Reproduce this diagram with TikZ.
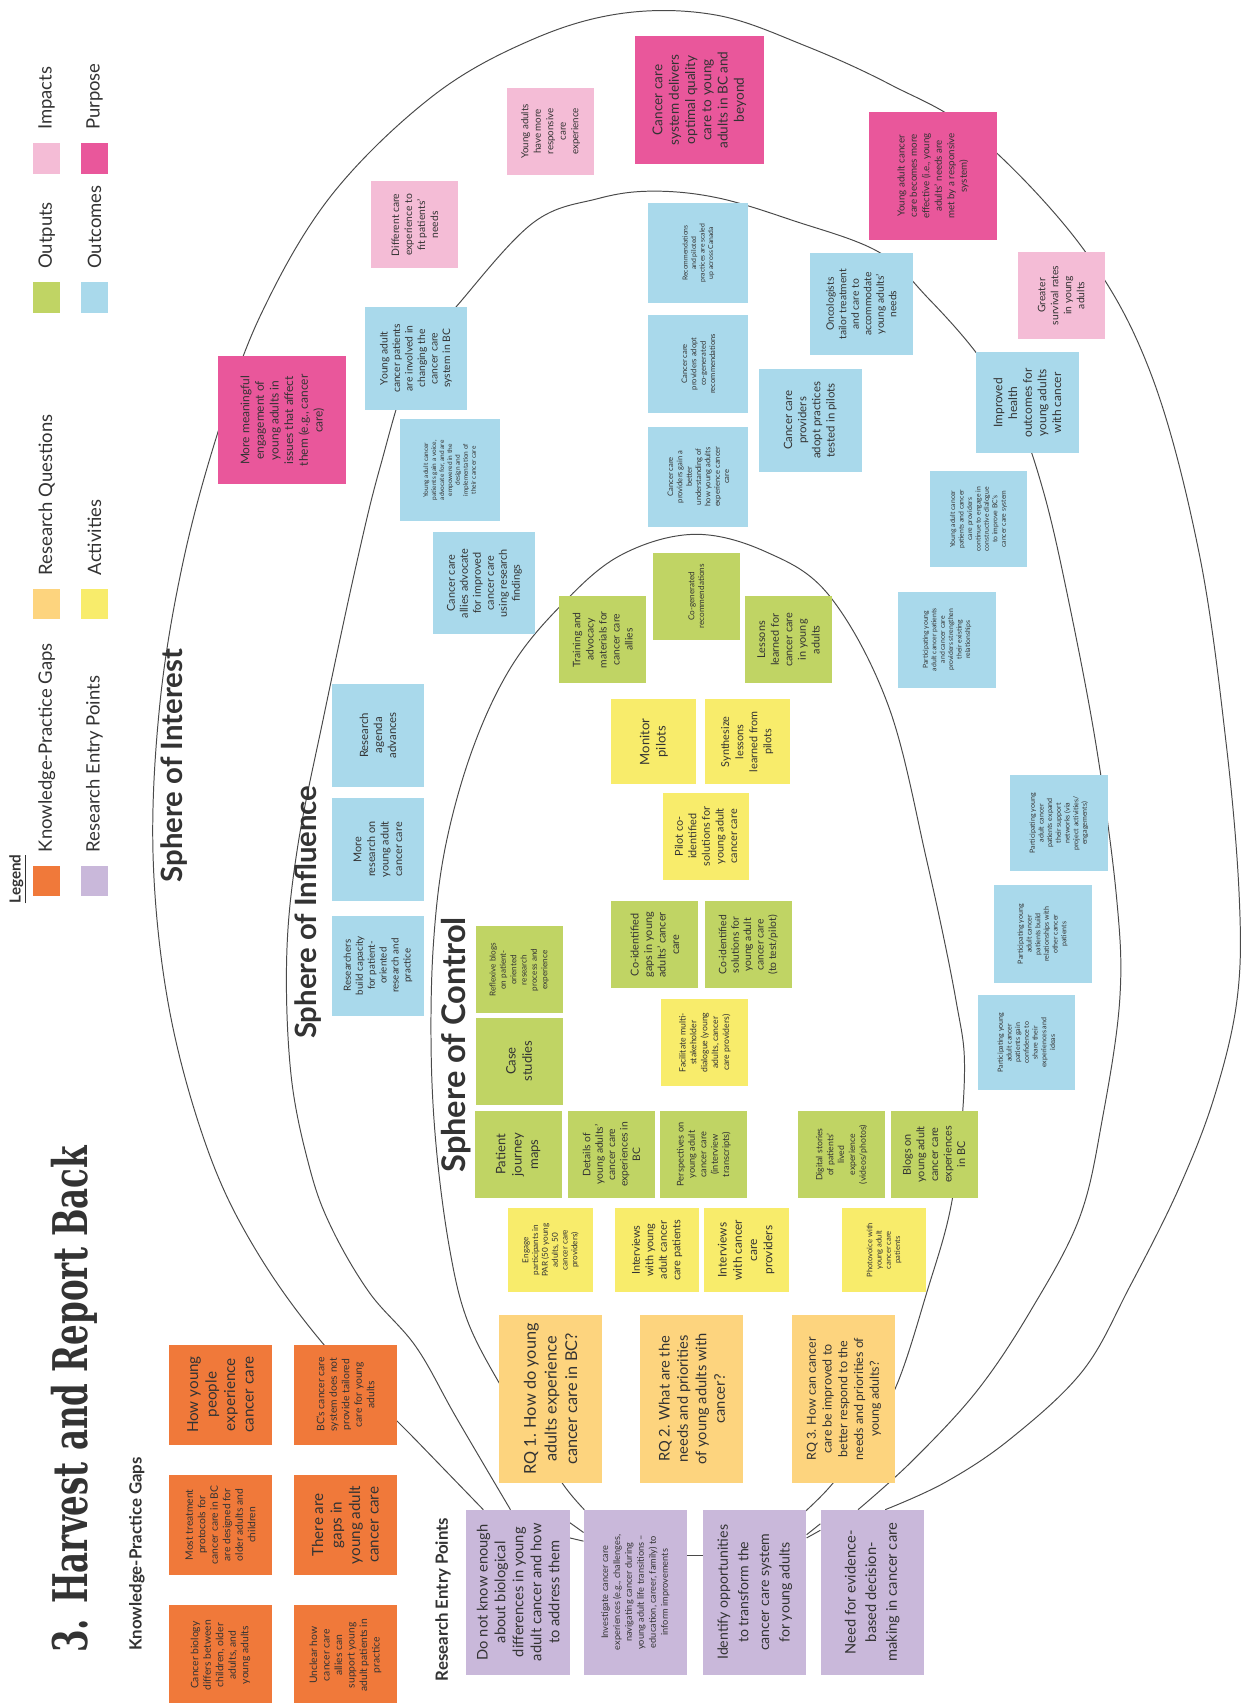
\documentclass[tikz,border=0pt]{standalone}
\usepackage{graphicx}
\usepackage{fontspec}
\setmainfont{Lato}
\newfontfamily\titlefont{DejaVu Serif}
\usetikzlibrary{calc,backgrounds}

\definecolor{ink}{HTML}{333333}
\definecolor{linec}{HTML}{4A4A4A}
\definecolor{gapc}{HTML}{F0793A}
\definecolor{entryc}{HTML}{C9B8DA}
\definecolor{rqc}{HTML}{FDD47E}
\definecolor{actc}{HTML}{F8EC6B}
\definecolor{outpc}{HTML}{C0D464}
\definecolor{outcc}{HTML}{A9D9EB}
\definecolor{impc}{HTML}{F4BCD6}
\definecolor{purpc}{HTML}{E9579B}

\newcommand\fsz[2]{\fontsize{#1}{#2}\selectfont}

\begin{document}
\begin{tikzpicture}[x=1pt, y=-1pt,
	box/.style={rotate=90, align=center, inner sep=1pt, text=ink},
	wh/.style 2 args={minimum height=#1pt, minimum width=#2pt},
	gap/.style={box, fill=gapc, wh={95}{92}},
	entry/.style={box, fill=entryc, wh={95}{152}},
	rq/.style={box, fill=rqc, wh={95}{155}},
	act/.style={box, fill=actc, wh={78}{78}},
	outp/.style={box, fill=outpc, wh={80}{80}},
	outc/.style={box, fill=outcc, wh={92}{92}},
	imp/.style={box, fill=impc, wh={80}{80}},
	purp/.style={box, fill=purpc, wh={118}{118}},
	swatch/.style={fill=#1, minimum width=25pt, minimum height=28pt, inner sep=0pt},
	legtext/.style={rotate=90, anchor=west, inner sep=0pt, text=ink, font=\fsz{17}{19}},
	heading/.style={rotate=90, anchor=west, inner sep=0pt, text=ink, font=\bfseries\fsz{15.5}{18}},
	sphere/.style={rotate=90, inner sep=0pt, text=ink, font=\bfseries\fsz{#1}{#1}},
	sphereline/.style={line width=0.9pt, draw=linec}
	]
	\useasboundingbox (0,0) rectangle (1144,1568);
	
	% legend
	\node[rotate=90, anchor=west, inner sep=0pt, text=ink, font=\bfseries\fsz{14}{16}] (leg) at (16,832) {\underline{Legend}};
	\node[swatch=gapc] (sw1) at (43,811) {};
	\node[swatch=rqc] (sw2) at (43,556) {};
	\node[swatch=outpc] (sw3) at (43,274) {};
	\node[swatch=impc] (sw4) at (43,146) {};
	\node[swatch=entryc] (sw5) at (87,811) {};
	\node[swatch=actc] (sw6) at (87,556) {};
	\node[swatch=outcc] (sw7) at (87,274) {};
	\node[swatch=purpc] (sw8) at (87,146) {};
	\node[legtext] (lt1) at ($(sw1.north)+(0,-12)$) {Knowledge-Practice Gaps};
	\node[legtext] (lt2) at ($(sw2.north)+(0,-12)$) {Research Questions};
	\node[legtext] (lt3) at ($(sw3.north)+(0,-12)$) {Outputs};
	\node[legtext] (lt4) at ($(sw4.north)+(0,-12)$) {Impacts};
	\node[legtext] (lt5) at ($(sw5.north)+(0,-12)$) {Research Entry Points};
	\node[legtext] (lt6) at ($(sw6.north)+(0,-12)$) {Activities};
	\node[legtext] (lt7) at ($(sw7.north)+(0,-12)$) {Outcomes};
	\node[legtext] (lt8) at ($(sw8.north)+(0,-12)$) {Purpose};
	
	% title and headings
	\node[rotate=90, anchor=west, inner sep=0pt, text=ink, font=\titlefont\bfseries\fsz{44}{44}] (title) at (68,1522) {\scalebox{0.68}[1]{3. Harvest and Report Back}};
	\node[heading] (kpglab) at (126,1520) {Knowledge-Practice Gaps};
	\node[heading] (eplab) at (408,1548) {Research Entry Points};
	
	\node[sphere=27] (soi) at (160,705) {Sphere of Interest};
	\node[sphere=27] (sinf) at (284,840) {Sphere of Influence};
	\node[sphere=30] (soc) at (420,962) {Sphere of Control};
	
	% knowledge-practice gaps
	\node[gap, font=\fsz{14}{17}] (g1) at (203,1284) {How young\\people\\experience\\cancer care};
	\node[gap, font=\fsz{9.5}{11.5}] (g2) at (203,1404) {Most treatment\\protocols for\\cancer care in BC\\are designed for\\older adults and\\children};
	\node[gap, font=\fsz{9.5}{11.5}] (g3) at (203,1524) {Cancer biology\\differs between\\children, older\\adults, and\\young adults};
	\node[gap, font=\fsz{9.5}{11.5}] (g4) at (318,1284) {BC's cancer care\\system does not\\provide tailored\\care for young\\adults};
	\node[gap, font=\fsz{14}{17}] (g5) at (318,1404) {There are\\gaps in\\young adult\\cancer care};
	\node[gap, font=\fsz{9.5}{11.5}] (g6) at (318,1524) {Unclear how\\cancer care\\allies can\\support young\\adult patients in\\practice};
	
	% research entry points
	\node[entry, font=\fsz{13.5}{16.5}] (e1) at (477,1466) {Do not know enough\\about biological\\differences in young\\adult cancer and how\\to address them};
	\node[entry, font=\fsz{8.5}{11}] (e2) at (585,1466) {Investigate cancer care\\experiences (e.g., challenges,\\navigating cancer during\\young adult life transitions --\\education, career, family) to\\inform improvements};
	\node[entry, font=\fsz{13}{19}] (e3) at (695,1466) {Identify opportunities\\to transform the\\cancer care system\\for young adults};
	\node[entry, font=\fsz{13.5}{19}] (e4) at (803,1466) {Need for evidence-\\based decision-\\making in cancer care};
	
	% research questions
	\node[rq, font=\fsz{15}{19}] (r1) at (507,1288) {RQ 1. How do young\\adults experience\\cancer care in BC?};
	\node[rq, font=\fsz{13.5}{17}] (r2) at (637,1288) {RQ 2. What are the\\needs and priorities\\of young adults with\\cancer?};
	\node[rq, font=\fsz{11.5}{14.5}] (r3) at (777,1288) {RQ 3. How can cancer\\care be improved to\\better respond to the\\needs and priorities of\\young adults?};
	
	% activities
	\node[act, font=\fsz{7.5}{9}] (a1) at (507,1151) {Engage\\participants in\\PAR (50 young\\adults, 50\\cancer care\\providers)};
	\node[act, font=\fsz{10}{12.5}] (a2) at (605,1151) {Interviews\\with young\\adult cancer\\care patients};
	\node[act, font=\fsz{11}{14}] (a3) at (687,1151) {Interviews\\with cancer\\care\\providers};
	\node[act, font=\fsz{7}{8.5}] (a4) at (814,1151) {Photovoice with\\young adult\\cancer care\\patients};
	\node[act, wh={80}{80}, font=\fsz{8}{10}] (a5) at (649,960) {Facilitate multi-\\stakeholder\\dialogue (young\\adults, cancer\\care providers)};
	\node[act, wh={80}{80}, font=\fsz{10}{12.5}] (a6) at (650,770) {Pilot co-\\identified\\solutions for\\young adult\\cancer care};
	\node[act, font=\fsz{12}{15}] (a7) at (602,683) {Monitor\\pilots};
	\node[act, font=\fsz{10}{13}] (a8) at (688,683) {Synthesize\\lessons\\learned from\\pilots};
	
	% outputs
	\node[outp, font=\fsz{12}{15}] (o1) at (477,1063) {Patient\\journey\\maps};
	\node[outp, font=\fsz{9.5}{11.5}] (o2) at (563,1063) {Details of\\young adults'\\cancer care\\experiences in\\BC};
	\node[outp, font=\fsz{8.5}{10.5}] (o3) at (648,1063) {Perspectives on\\young adult\\cancer care\\(interview\\transcripts)};
	\node[outp, font=\fsz{8}{10}] (o4) at (775,1063) {Digital stories\\of patients'\\lived\\experience\\(videos/photos)};
	\node[outp, font=\fsz{10}{12.5}] (o5) at (860,1063) {Blogs on\\young adult\\cancer care\\experiences\\in BC};
	\node[outp, font=\fsz{12}{15}] (o6) at (478,977) {Case\\studies};
	\node[outp, font=\fsz{7.5}{9.5}] (o7) at (478,893) {Reflexive blogs\\on patient-\\oriented\\research\\process and\\experience};
	\node[outp, font=\fsz{10}{12.5}] (o8) at (603,870) {Co-identified\\gaps in young\\adults' cancer\\care};
	\node[outp, font=\fsz{9.5}{11.5}] (o9) at (689,870) {Co-identified\\solutions for\\young adult\\cancer care\\(to test/pilot)};
	\node[outp, font=\fsz{9.5}{12}] (o10) at (555,589) {Training and\\advocacy\\materials for\\cancer care\\allies};
	\node[outp, font=\fsz{7.5}{9}] (o11) at (641,549) {Co-generated\\recommendations};
	\node[outp, font=\fsz{10}{12.5}] (o12) at (726,589) {Lessons\\learned for\\cancer care\\in young\\adults};
	
	% outcomes
	\node[outc, wh={85}{92}, font=\fsz{9}{11}] (c1) at (348,889) {Researchers\\build capacity\\for patient-\\oriented\\research and\\practice};
	\node[outc, wh={85}{95}, font=\fsz{10}{12.5}] (c2) at (348,782) {More\\research on\\young adult\\cancer care};
	\node[outc, wh={85}{95}, font=\fsz{10.5}{13}] (c3) at (348,677) {Research\\agenda\\advances};
	\node[outc, wh={94}{94}, font=\fsz{10}{12}] (c4) at (446,537) {Cancer care\\allies advocate\\for improved\\cancer care\\using research\\findings};
	\node[outc, wh={92}{94}, font=\fsz{6}{7.3}] (c5) at (414,433) {Young adult cancer\\patients gain a voice,\\advocate for, and are\\empowered in the\\design and\\implementation of\\their cancer care};
	\node[outc, wh={94}{95}, font=\fsz{9.5}{11.5}] (c6) at (383,330) {Young adult\\cancer patients\\are involved in\\changing the\\cancer care\\system in BC};
	\node[outc, font=\fsz{7}{8.6}] (c7) at (643,439) {Cancer care\\providers gain a\\better\\understanding of\\how young adults\\experience cancer\\care};
	\node[outc, wh={92}{90}, font=\fsz{7}{8.6}] (c8) at (643,335) {Cancer care\\providers adopt\\co-generated\\recommendations};
	\node[outc, font=\fsz{6.3}{7.8}] (c9) at (643,233) {Recommendations\\and piloted\\practices are scaled\\up across Canada};
	\node[outc, wh={95}{95}, font=\fsz{10.5}{13}] (c10) at (746,387) {Cancer care\\providers\\adopt practices\\tested in pilots};
	\node[outc, wh={95}{94}, font=\fsz{9.5}{11.5}] (c11) at (793,280) {Oncologists\\tailor treatment\\and care to\\accommodate\\young adults'\\needs};
	\node[outc, wh={94}{93}, font=\fsz{11}{13.5}] (c12) at (946,371) {Improved\\health\\outcomes for\\young adults\\with cancer};
	\node[outc, wh={90}{88}, font=\fsz{6.3}{7.8}] (c13) at (901,478) {Young adult cancer\\patients and cancer\\care providers\\continue to engage in\\constructive dialogue\\to improve BC's\\cancer care system};
	\node[outc, wh={90}{88}, font=\fsz{6.3}{7.8}] (c14) at (872,589) {Participating young\\adult cancer patients\\and cancer care\\providers strengthen\\their existing\\relationships};
	\node[outc, wh={90}{88}, font=\fsz{6.5}{8}] (c15) at (975,758) {Participating young\\adult cancer\\patients expand\\their support\\networks (via\\project activities/\\engagements)};
	\node[outc, wh={90}{90}, font=\fsz{6.5}{8}] (c16) at (960,860) {Participating young\\adult cancer\\patients build\\relationships with\\other cancer\\patients};
	\node[outc, wh={90}{88}, font=\fsz{6.5}{8}] (c17) at (945,960) {Participating young\\adult cancer\\patients gain\\confidence to\\share their\\experiences and\\ideas};
	
	% impacts and purpose
	\node[purp, font=\fsz{11}{13.5}] (p1) at (260,387) {More meaningful\\engagement of\\young adults in\\issues that affect\\them (e.g., cancer\\care)};
	\node[imp, font=\fsz{9.5}{12}] (i1) at (382,207) {Different care\\experience to\\fit patients'\\needs};
	\node[imp, font=\fsz{9}{11.5}] (i2) at (507,121) {Young adults\\have more\\responsive\\care\\experience};
	\node[purp, font=\fsz{12.5}{15}] (p2) at (644,92) {Cancer care\\system delivers\\optimal quality\\care to young\\adults in BC and\\beyond};
	\node[purp, font=\fsz{9}{11.5}] (p3) at (859,162) {Young adult cancer\\care becomes more\\effective (i.e., young\\adults' needs are\\met by a responsive\\system)};
	\node[imp, font=\fsz{9.5}{12}] (i3) at (977,272) {Greater\\survival rates\\in young\\adults};
	
	% spheres
	\begin{scope}[on background layer]
	\fill[white] (0,0) rectangle (1144,1568);
	\draw[sphereline] plot[smooth, tension=0.6] coordinates {
		(445,1390) (385,1328) (299,1239) (235,1150) (191,1058) (156,930)
		(141,790) (147,650) (168,520) (200,400) (240,290) (305,180) (399,88)
		(491,36) (575,12) (660,14) (741,42) (820,78) (900,125) (998,230)
		(1060,345) (1104,509) (1129,685) (1141,826) (1139,920) (1118,1010)
		(1085,1095) (1040,1185) (997,1262) (930,1325) (870,1365) (815,1390)};
	\draw[sphereline] plot[smooth, tension=0.6] coordinates {
		(470,1390) (420,1305) (383,1240) (340,1190) (305,1130) (285,1075)
		(268,990) (264,880) (274,780) (298,660) (328,520) (350,430) (380,335)
		(423,279) (491,205) (550,183) (600,176) (660,182) (730,203) (809,232)
		(855,275) (899,325) (935,380) (960,450) (982,544) (1009,685)
		(1028,826) (1031,920) (1015,1030) (994,1121) (950,1205) (900,1280)
		(840,1345) (790,1390)};
	\draw[sphereline] plot[smooth, tension=0.6] coordinates {
		(538,1390) (518,1366) (490,1320) (460,1274) (430,1215) (414,1150)
		(402,1060) (397,970) (399,870) (410,780) (435,690) (470,615)
		(515,559) (570,512) (638,492) (705,508) (764,549) (818,650)
		(853,791) (880,920) (888,990) (877,1103) (853,1191) (824,1279)
		(790,1335) (764,1369) (741,1392)};
	\draw[sphereline] ($(e1.south)+(0,-64)$) -- ($(e2.north)+(0,-55)$);
	\draw[sphereline] ($(e1.south)+(0,-50)$) -- ($(e2.north)+(0,-47)$);
	\draw[sphereline] ($(e2.south)+(0,-34)$) -- ($(e3.north)+(0,-34)$);
	\draw[sphereline] ($(e3.south)+(0,-53)$) -- ($(e4.north)+(0,-63)$);
	\draw[sphereline] ($(e3.south)+(0,-50)$) -- ($(e4.north)+(0,-57)$);
	\end{scope}
\end{tikzpicture}
\end{document}
